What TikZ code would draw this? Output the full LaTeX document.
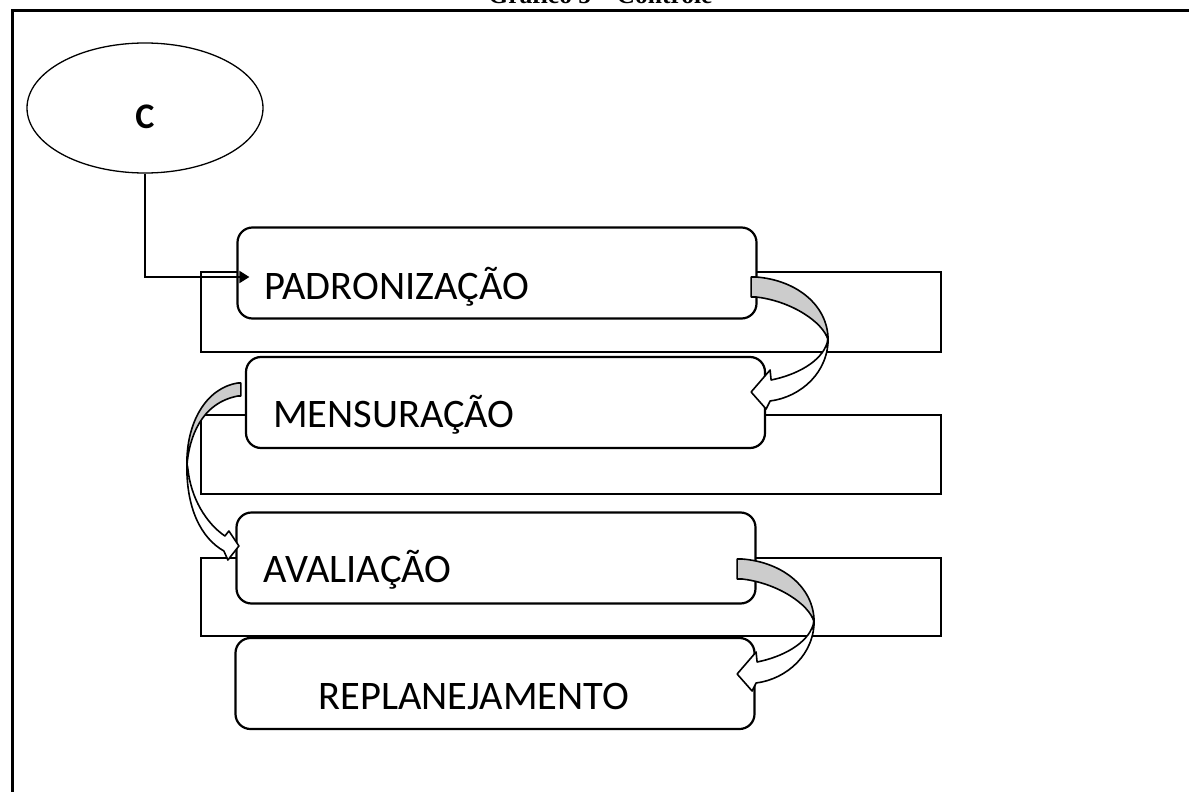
\documentclass[tikz,border=0pt]{standalone}
\usepackage{fontspec}
\setmainfont{Carlito}
\newfontfamily\titlefont{Liberation Serif}
\usetikzlibrary{arrows.meta,shapes.geometric}

\newcommand{\captext}[2]{\raisebox{-#1pt}[0pt][0pt]{#2}}

% curved ribbon arrow, turning on the right side
\newcommand{\turnright}[1]{%
  \begin{scope}[shift={#1}]
    \path[ribbon, fill=gray!40] (0,0) -- (5,0) .. controls (45,3) and (77,28) .. (77,63)
      .. controls (72,45) and (40,24) .. (5,20) -- (0,20) -- cycle;
    \path[ribbon, fill=white] (77,60) .. controls (78,95) and (50,120) .. (19,124)
      -- (15,132) -- (0,115) -- (19,93) -- (20,103)
      .. controls (45,98) and (70,85) .. (76,66) -- cycle;
  \end{scope}}

% curved ribbon arrow, turning on the left side
\newcommand{\turnleft}[1]{%
  \begin{scope}[shift={#1}]
    \path[ribbon, fill=gray!40] (0,0) -- (-3,0) .. controls (-35,5) and (-55,40) .. (-54,83)
      .. controls (-52,55) and (-40,20) .. (-3,13) -- (0,13) -- cycle;
    \path[ribbon, fill=white] (-54,80) .. controls (-55,125) and (-40,155) .. (-17,168)
      -- (-13,177) -- (-2,163) -- (-12,148) -- (-16,153)
      .. controls (-35,140) and (-50,115) .. (-53,86) -- cycle;
  \end{scope}}

\begin{document}
\begin{tikzpicture}[
  x=1pt, y=-1pt,
  stage/.style={rectangle, rounded corners=15pt, draw, line width=2.2pt, fill=white,
    minimum width=519pt, minimum height=91pt, text width=465pt, inner xsep=27pt,
    align=left, font=\fontsize{40.5}{46}\selectfont},
  panel/.style={draw, line width=2.2pt, fill=white},
  ribbon/.style={draw, line width=1.6pt, line join=round}
]
\useasboundingbox (0,0) rectangle (1189,792);

% Title and frame
\node[font=\titlefont\bfseries\fontsize{25.5}{30}\selectfont, anchor=base] (title) at (600.5,4) {Gráfico 5 – Controle};
\draw[line width=3.2pt] (12.5,792) -- (12.5,10.5) -- (1189,10.5);

% Back panels
\draw[panel] (201,272) rectangle (941,352);
\draw[panel] (201,415) rectangle (941,494);
\draw[panel] (201,558) rectangle (941,636);

% Start
\node[ellipse, draw, line width=1.3pt, minimum width=236pt, minimum height=130pt, inner sep=0pt,
  font=\bfseries\fontsize{36}{40}\selectfont] (c) at (145,108) {\captext{20.5}{C}};

% Stages
\node[stage] (pad) at (497,273) {\captext{26}{PADRONIZAÇÃO}};
\node[stage, below of=pad, node distance=129.5pt, xshift=8.5pt] (men) {\captext{24.5}{MENSURAÇÃO}};
\node[stage, below of=men, node distance=155.5pt, xshift=-9.5pt] (ava) {\captext{24}{AVALIAÇÃO}};
\node[stage, below of=ava, node distance=125.5pt, xshift=-1pt] (rep) {\captext{25.5}{\hspace*{56pt}REPLANEJAMENTO}};

% Connections
\draw[line width=2pt, -{Triangle[length=10pt,width=12pt]}] (c.south) |- ([xshift=13pt,yshift=-4pt]pad.west);
\turnright{([xshift=-6.5pt,yshift=-4pt]pad.east)}
\turnleft{([xshift=-4pt,yshift=19.5pt]men.west)}
\turnright{([xshift=-19.5pt,yshift=-1pt]ava.east)}
\end{tikzpicture}
\end{document}
